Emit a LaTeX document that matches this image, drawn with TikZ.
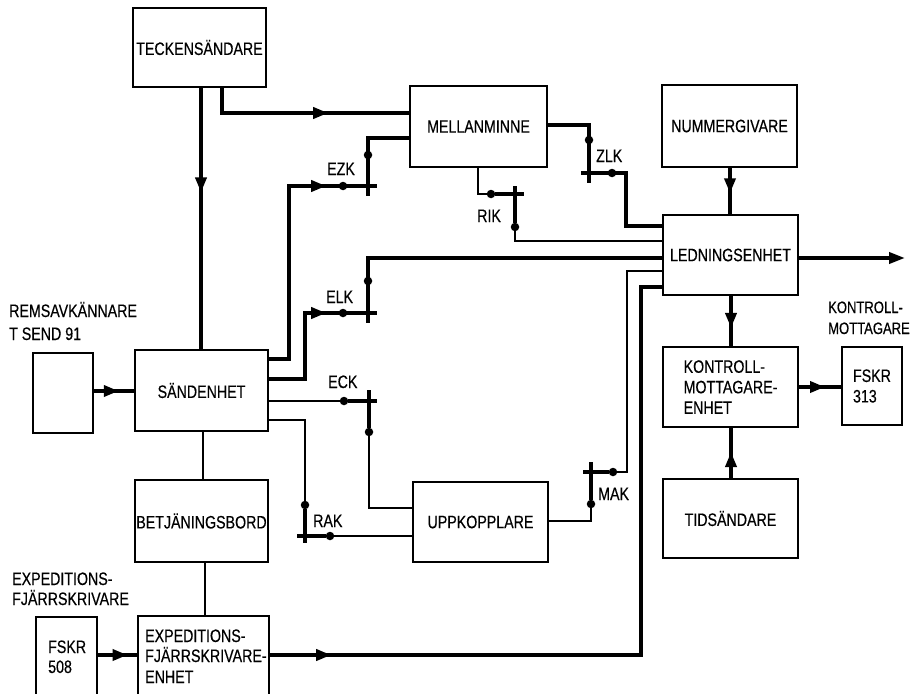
\documentclass[tikz,border=0pt]{standalone}
\usepackage{fontspec}
\setmainfont{Liberation Sans}[FakeStretch=0.79,FakeBold=0.4]
\usetikzlibrary{arrows.meta,decorations.markings}
\newcommand\lbl{\fontsize{18}{20.5}\selectfont}
\newcommand\lbs{\fontsize{16.5}{20.5}\selectfont}
\begin{document}
\begin{tikzpicture}[x=1pt,y=-1pt,
  box/.style={draw, line width=2.4pt, inner sep=0pt, align=left, font=\lbl},
  thk/.style={line width=3.6pt},
  thn/.style={line width=1.3pt},
  dotm/.style={circle, fill, inner sep=0pt, minimum size=8.5pt},
  txt/.style={anchor=base west, inner sep=0pt, font=\lbl},
  arr/.style={postaction={decorate, decoration={markings, mark=at position #1 with {\arrow{Triangle[length=15pt,width=11pt]}}}}},
]
\useasboundingbox (0,0) rectangle (912,693);
\clip (0,0) rectangle (912,693);

% boxes
\node[box, minimum width=133pt, minimum height=79pt] (tk) at (199.5,47.5) {TECKENSÄNDARE};
\node[box, minimum width=137pt, minimum height=81pt] (mm) at (478.5,126.5) {MELLANMINNE};
\node[box, minimum width=135pt, minimum height=82pt] (ng) at (729.5,126) {NUMMERGIVARE};
\node[box, minimum width=135pt, minimum height=80pt] (le) at (730.5,255) {LEDNINGSENHET};
\node[box, minimum width=133pt, minimum height=81pt] (se) at (201.5,390.5) {SÄNDENHET};
\node[box, minimum width=60pt, minimum height=80pt] (rk) at (63,393) {};
\node[box, minimum width=133pt, minimum height=82pt] (bb) at (201.5,521) {BETJÄNINGSBORD};
\node[box, minimum width=131pt, minimum height=100pt] (ee) at (203.5,666) {};
\node[box, minimum width=61pt, minimum height=100pt] (f5) at (66.5,667) {};
\node[box, minimum width=135pt, minimum height=80pt] (up) at (480.5,522) {UPPKOPPLARE};
\node[box, minimum width=135pt, minimum height=80pt] (km) at (730.5,387) {KONTROLL-\\MOTTAGARE-\\ENHET};
\node[box, minimum width=60pt, minimum height=78pt] (f3) at (872,386) {FSKR\\313};
\node[box, minimum width=135pt, minimum height=79pt] (ts) at (730.5,518.5) {TIDSÄNDARE};

% free labels
\node[txt] (t1) at (9,317) {REMSAVKÄNNARE};
\node[txt] (t2) at (9,340) {T SEND 91};
\node[txt] (t3) at (12,585) {EXPEDITIONS-};
\node[txt] (t4) at (12,605) {FJÄRRSKRIVARE};
\node[txt, font=\lbs] (t5) at (828,313) {KONTROLL-};
\node[txt, font=\lbs] (t6) at (828,334) {MOTTAGARE};
\node[txt] (t7) at (48,653) {FSKR};
\node[txt] (t8) at (48,673) {508};
\node[txt] (t9) at (145,642) {EXPEDITIONS-};
\node[txt] (t10) at (145,662) {FJÄRRSKRIVARE-};
\node[txt] (t11) at (145,683) {ENHET};
\node[txt] (lezk) at (327,175) {EZK};
\node[txt] (lelk) at (326,303) {ELK};
\node[txt] (leck) at (328,388) {ECK};
\node[txt] (lrak) at (313,527) {RAK};
\node[txt] (lmak) at (598,500) {MAK};
\node[txt] (lzlk) at (596,162) {ZLK};
\node[txt] (lrik) at (477,222) {RIK};

% contact end points
\coordinate (ezkh) at (377,186);
\coordinate (ezkv) at (368,196);
\coordinate (elkh) at (377,313);
\coordinate (elkv) at (368,323);
\coordinate (out) at (905,258);

% simple arrows
\draw[thk, arr=0.4] (tk.south -| 201,0) -- (se.north -| 201,0);
\draw[thk, arr=131pt] (tk.south -| 222,0) |- (mm.west |- 0,113);
\draw[thk, arr=0.55] (ng.south -| 730,0) -- (le.north -| 730,0);
\draw[thk, arr=0.64] (le.south -| 731,0) -- (km.north -| 731,0);
\draw[thk, arr=0.52] (ts.north -| 731,0) -- (km.south -| 731,0);
\draw[thk, arr=0.62] (km.east |- 0,387) -- (f3.west |- 0,387);
\draw[thk, arr=0.62] (rk.east |- 0,391) -- (se.west |- 0,391);
\draw[thk, arr=0.76] (f5.east |- 0,655) -- (ee.west |- 0,655);
\draw[thk, -{Triangle[length=16pt,width=11pt]}] (le.east |- 0,258) -- (out);
\draw[thn] (se.south -| 203,0) -- (bb.north -| 203,0);
\draw[thn] (bb.south -| 205,0) -- (ee.north -| 205,0);
\draw[thk, arr=61pt] (ee.east |- 0,655) -| (641,287) -- (le.west |- 0,287);

% EZK
\draw[thk, arr=230pt] (se.east |- 0,359) -| (289,186) -- (ezkh);
\draw[thk] (mm.west |- 0,138) -| (ezkv);
\node[dotm] (dezk1) at (343,186) {};
\node[dotm] (dezk2) at (368,155) {};

% ELK
\draw[thk, arr=123pt] (se.east |- 0,379) -| (305,313) -- (elkh);
\draw[thk] (le.west |- 0,258) -| (elkv);
\node[dotm] (delk1) at (343,313) {};
\node[dotm] (delk2) at (368,281) {};

% ECK
\node[dotm] (deck1) at (344,401) {};
\node[dotm] (deck2) at (369,432) {};
\draw[thn] (se.east |- 0,401) -- (deck1);
\draw[thk] (deck1) -- (377,401);
\draw[thk] (369,390) -- (deck2);
\draw[thn] (deck2) |- (up.west |- 0,508);

% RAK
\node[dotm] (drak1) at (305,505) {};
\node[dotm] (drak2) at (330,536) {};
\draw[thn] (se.east |- 0,420) -| (drak1);
\draw[thk] (drak1) -- (305,543);
\draw[thk] (297,536) -- (drak2);
\draw[thn] (drak2) -- (up.west |- 0,536);

% MAK
\node[dotm] (dmak1) at (591,504) {};
\node[dotm] (dmak2) at (613,472) {};
\draw[thn] (up.east |- 0,521) -| (dmak1);
\draw[thk] (dmak1) -- (591,462);
\draw[thk] (583,472) -- (dmak2);
\draw[thn] (dmak2) -| (627,271) -- (le.west |- 0,271);

% ZLK
\node[dotm] (dzlk1) at (589,140) {};
\node[dotm] (dzlk2) at (612,173) {};
\draw[thk] (mm.east |- 0,125) -| (589,183);
\draw[thk] (581,173) -| (626,226) -- (le.west |- 0,226);

% RIK
\node[dotm] (drik1) at (491,194) {};
\node[dotm] (drik2) at (515,227) {};
\draw[thn] (mm.south -| 478,0) |- (drik1);
\draw[thk] (drik1) -- (524,194);
\draw[thk] (515,186) -- (drik2);
\draw[thn] (drik2) |- (le.west |- 0,241);
\end{tikzpicture}
\end{document}
